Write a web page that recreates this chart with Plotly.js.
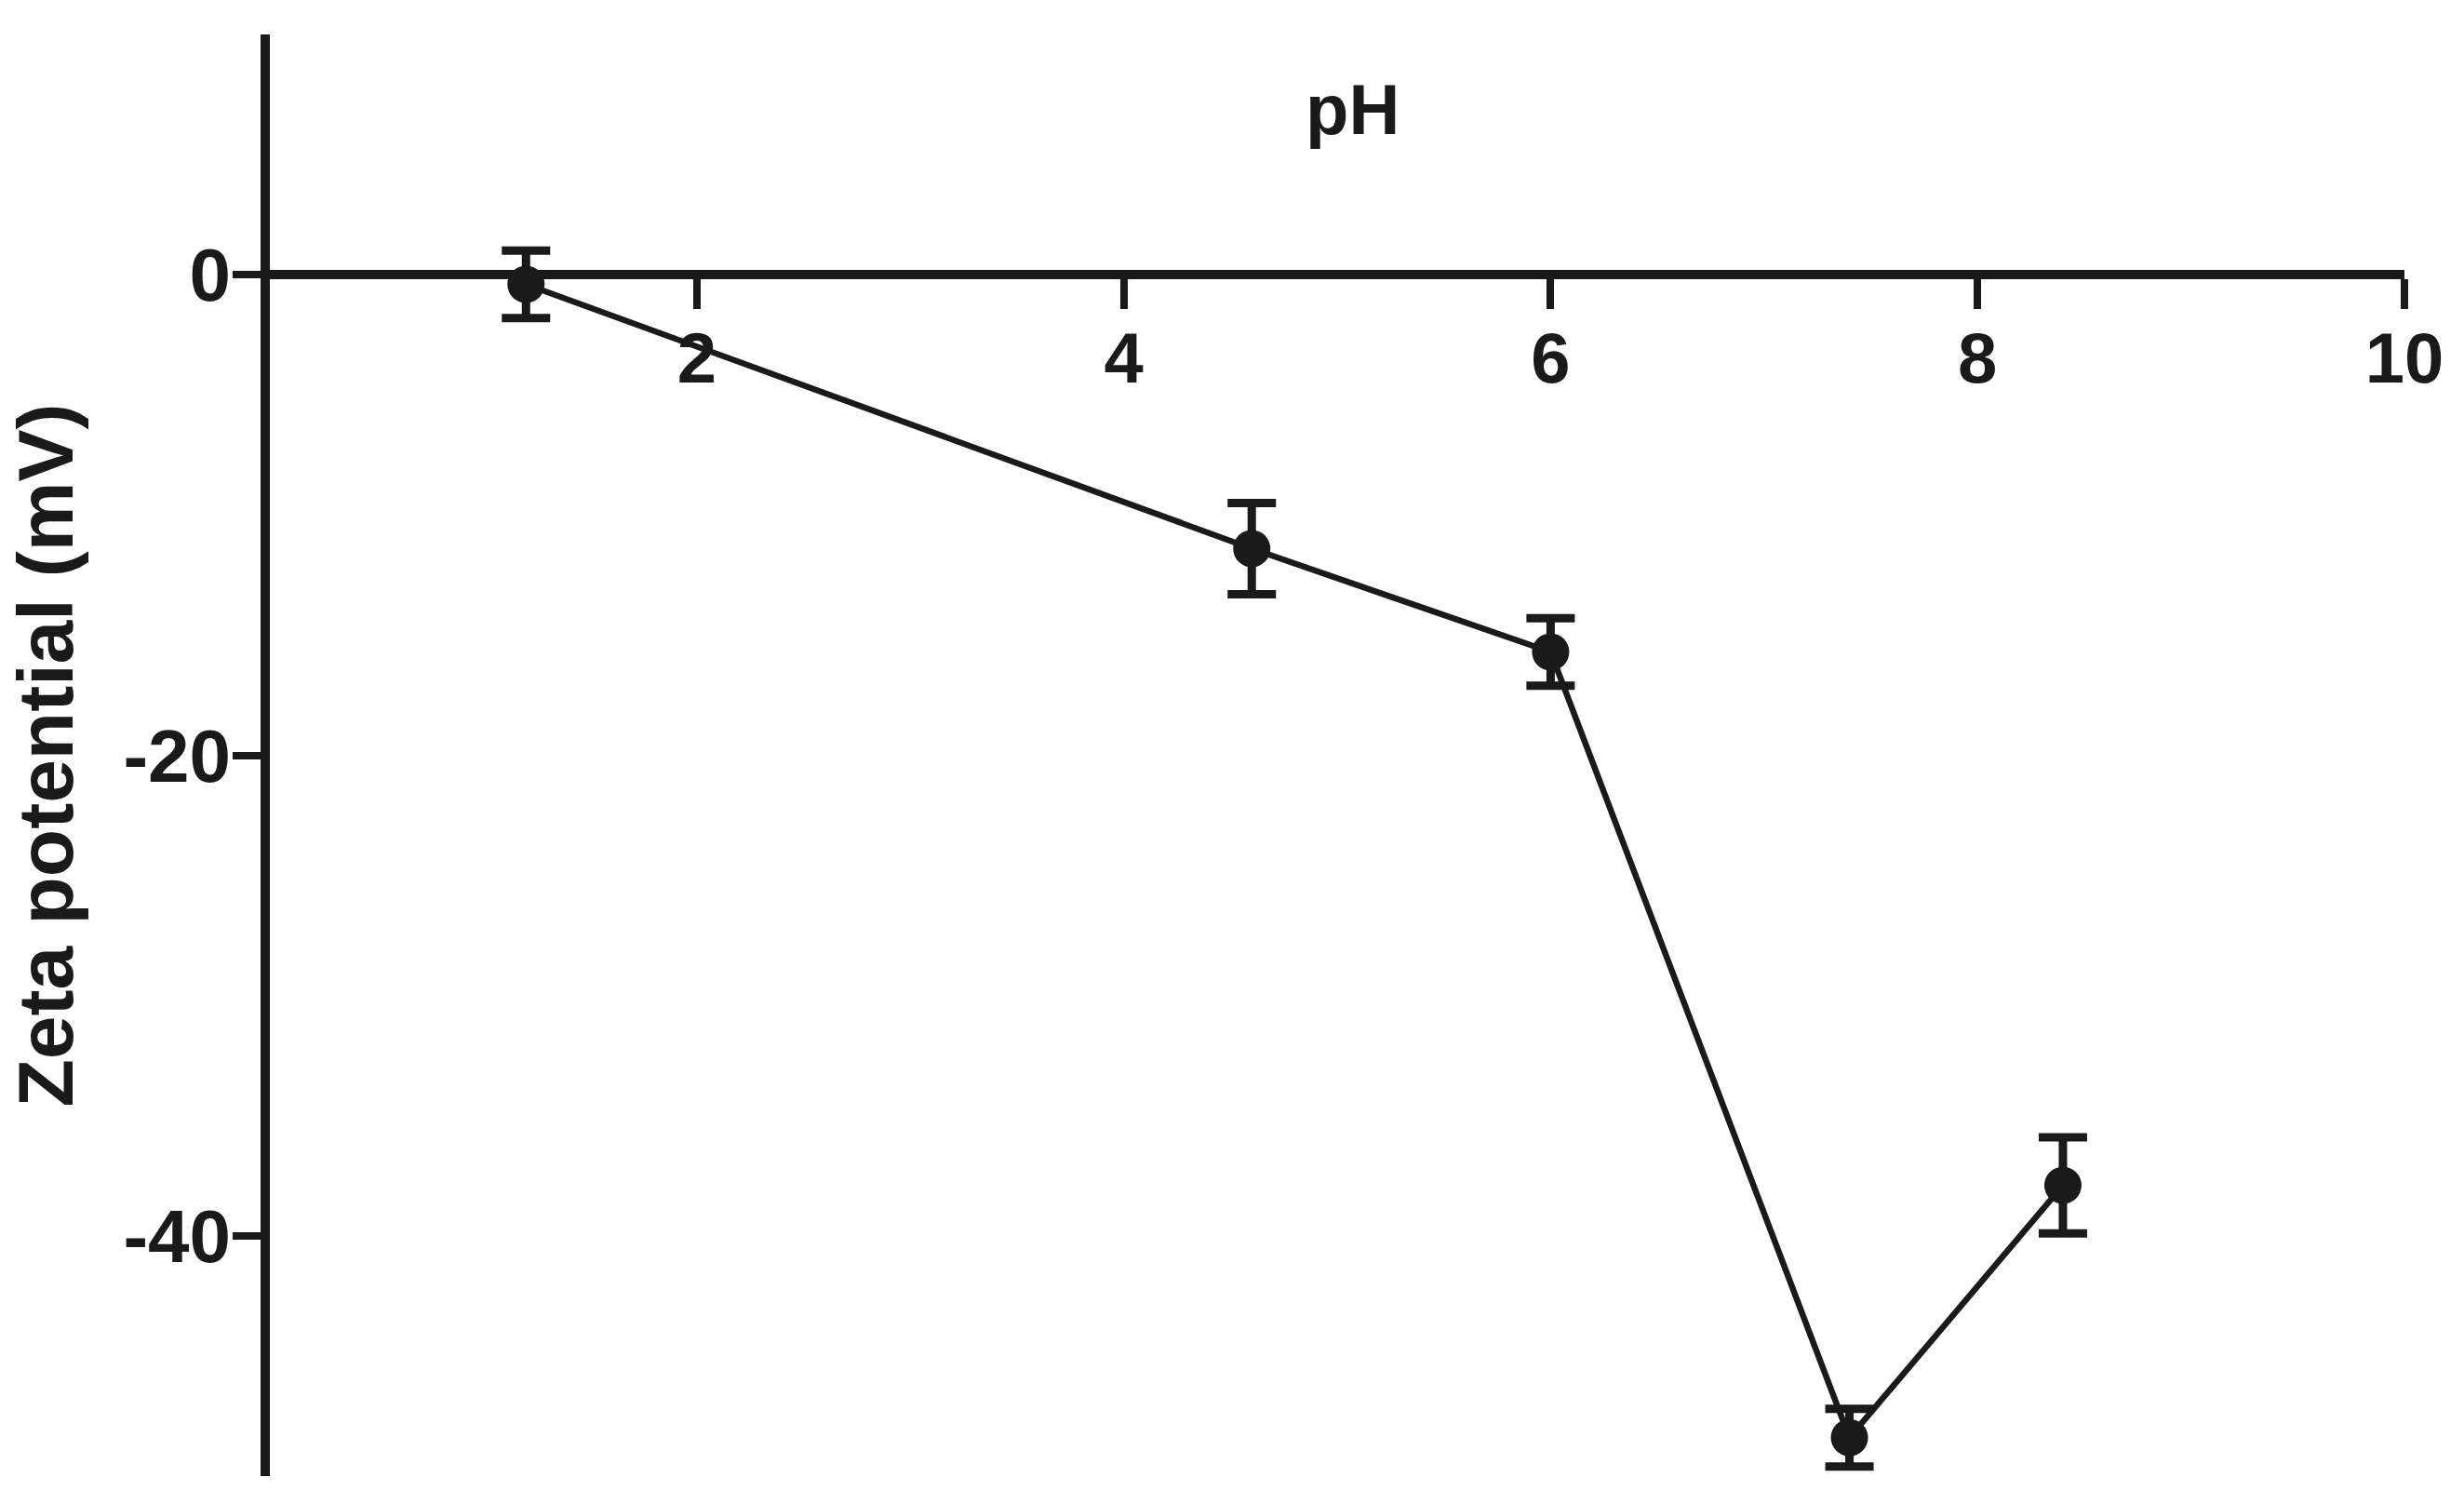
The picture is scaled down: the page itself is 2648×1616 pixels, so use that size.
<!DOCTYPE html>
<html>
<head>
<meta charset="utf-8">
<script src="https://cdn.plot.ly/plotly-3.0.1.min.js"></script>
<style>
  body { margin: 0; background: #fff; }
  #chart { width: 2648px; height: 1616px; }
</style>
</head>
<body>
<div id="chart"></div>
<script>
// values
const pH = [1.2, 4.6, 6.0, 7.4, 8.4];
const zeta = [-0.4, -11.4, -15.7, -48.4, -37.9];
const zetaErr = [1.4, 1.9, 1.4, 1.2, 2.0];
const xTicks = [2, 4, 6, 8, 10];
const yTicks = [0, -20, -40];
const yTickText = ['0', '-20', '-40'];

const ink = '#1a1a1a';
const font = {family: 'Liberation Sans, Arial, sans-serif', color: ink, weight: 'bold'};

let trace = {
  x: pH,
  y: zeta,
  type: 'scatter',
  mode: 'lines+markers',
  line: {color: ink, width: 6.5},
  marker: {color: ink, size: 40, symbol: 'circle'},
  error_y: {type: 'data', array: zetaErr, visible: true, color: ink, thickness: 9, width: 26},
  showlegend: false
};

let yLo = -50, yHi = 10;

let layout = {
  width: 2648,
  height: 1616,
  margin: {l: 290, r: 64, t: 37, b: 30},
  paper_bgcolor: '#ffffff',
  plot_bgcolor: '#ffffff',
  font: Object.assign({size: 75}, font),
  xaxis: {
    range: [0, 10],
    anchor: 'free',
    position: (0 - yLo) / (yHi - yLo),
    showline: true, linecolor: ink, linewidth: 10,
    ticks: 'outside', ticklen: 32, tickwidth: 8, tickcolor: ink,
    tickvals: xTicks,
    ticklabelstandoff: -12,
    tickfont: Object.assign({size: 76}, font),
    showgrid: false, zeroline: false
  },
  yaxis: {
    range: [yLo, yHi],
    showline: true, linecolor: ink, linewidth: 10,
    ticks: 'outside', ticklen: 30, tickwidth: 8, tickcolor: ink,
    tickvals: yTicks,
    ticktext: yTickText,
    ticklabelstandoff: -14,
    tickfont: Object.assign({size: 80}, font),
    showgrid: false, zeroline: false,
    title: {text: 'Zeta potential (mV)', font: Object.assign({size: 84}, font), standoff: 30}
  },
  annotations: [{
    text: 'pH', x: 5.07, y: 6.9, xref: 'x', yref: 'y',
    showarrow: false, font: Object.assign({size: 76}, font), yanchor: 'middle'
  }]
};

Plotly.newPlot('chart', [trace], layout, {displayModeBar: false});
</script>
</body>
</html>
